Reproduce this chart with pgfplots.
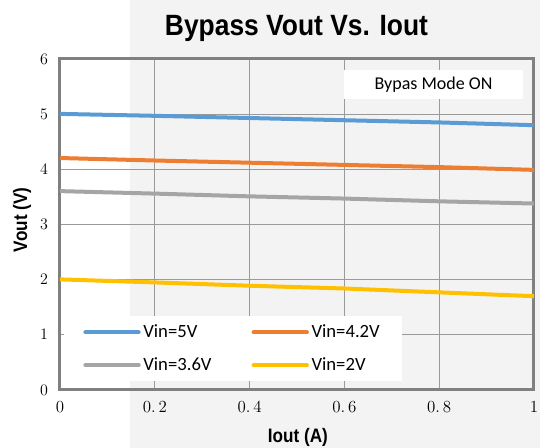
\documentclass[border=0pt]{standalone}
\usepackage{fontspec}
\usepackage{pgfplots}
\pgfplotsset{compat=1.18}
\newfontfamily\lsans{Liberation Sans}
\newfontfamily\carlito{Carlito}
\definecolor{cblue}{HTML}{5B9BD5}
\definecolor{corange}{HTML}{ED7D31}
\definecolor{cgray}{HTML}{A5A5A5}
\definecolor{cyellow}{HTML}{FFC000}
\definecolor{bgcol}{HTML}{F3F3F3}
\definecolor{framecol}{HTML}{808080}
\definecolor{gridcol}{HTML}{9A9A9A}
\begin{document}
\begin{tikzpicture}
\path[use as bounding box] (-45pt,-43.5pt) rectangle (360pt,292.5pt);
\fill[bgcol] (52.5pt,-43.5pt) rectangle (360pt,292.5pt);
\begin{axis}[
  at={(0,0)}, anchor=south west,
  scale only axis, width=355.5pt, height=248.25pt,
  xmin=0, xmax=1, ymin=0, ymax=6,
  xtick={0,0.2,0.4,0.6,0.8,1},
  xticklabels={0,{0.\,2},{0.\,4},{0.\,6},{0.\,8},1},
  ytick={0,1,2,3,4,5,6},
  major tick length=0pt,
  tick label style={font=\fontsize{12.7}{15}\selectfont},
  yticklabel style={xshift=-5.5pt},
  xticklabel style={yshift=-5pt},
  axis line style={draw=framecol, line width=2.25pt},
  grid=major,
  grid style={draw=gridcol, line width=0.9pt},
  title={\scalebox{0.9}[1]{\lsans\bfseries\fontsize{22}{26}\selectfont Bypass Vout Vs. Iout}},
  title style={at={(axis description cs:0.499,1.0695)}, anchor=base, inner sep=0pt, yshift=-6pt},
  xlabel={\scalebox{0.88}[1]{\lsans\bfseries\fontsize{14.6}{17}\selectfont Iout (A)}},
  xlabel style={at={(axis description cs:0.502,-0.160)}, anchor=base, inner sep=0pt},
  ylabel={\scalebox{0.88}[1]{\lsans\bfseries\fontsize{14.6}{17}\selectfont Vout (V)}},
  ylabel style={at={(axis description cs:-0.0696,0.514)}, anchor=base, inner sep=0pt},
  legend columns=2,
  legend cell align=left,
  legend image code/.code={\draw[#1, line cap=round] (0pt,0pt) -- (40pt,0pt);},
  legend style={at={(axis description cs:0.008,0.2235)}, anchor=north west,
    fill=white, draw=none, inner xsep=14.5pt, inner ysep=4.5pt,
    font=\carlito\fontsize{14}{16}\selectfont,
    row sep=9.5pt,
    /tikz/every even column/.append style={column sep=28pt},
    nodes={inner xsep=2pt}},
  every axis plot/.append style={line width=3pt},
]
\addplot[cblue] coordinates {(0,5.005) (0.2,4.97) (0.4,4.93) (0.6,4.89) (0.8,4.85) (1,4.80)};
\addlegendentry{Vin=5V}
\addplot[corange] coordinates {(0,4.205) (0.2,4.16) (0.4,4.12) (0.6,4.08) (0.8,4.04) (1,3.99)};
\addlegendentry{Vin=4.2V}
\addplot[cgray] coordinates {(0,3.605) (0.2,3.56) (0.4,3.51) (0.6,3.47) (0.8,3.42) (1,3.38)};
\addlegendentry{Vin=3.6V}
\addplot[cyellow] coordinates {(0,2.005) (0.2,1.95) (0.4,1.89) (0.6,1.84) (0.8,1.77) (1,1.70)};
\addlegendentry{Vin=2V}
\node[fill=white, minimum width=134pt, minimum height=21.75pt, inner sep=0pt,
  font=\carlito\fontsize{13.5}{16}\selectfont] at (axis cs:0.788,5.54) {Bypas Mode ON};
\end{axis}
\end{tikzpicture}
\end{document}
